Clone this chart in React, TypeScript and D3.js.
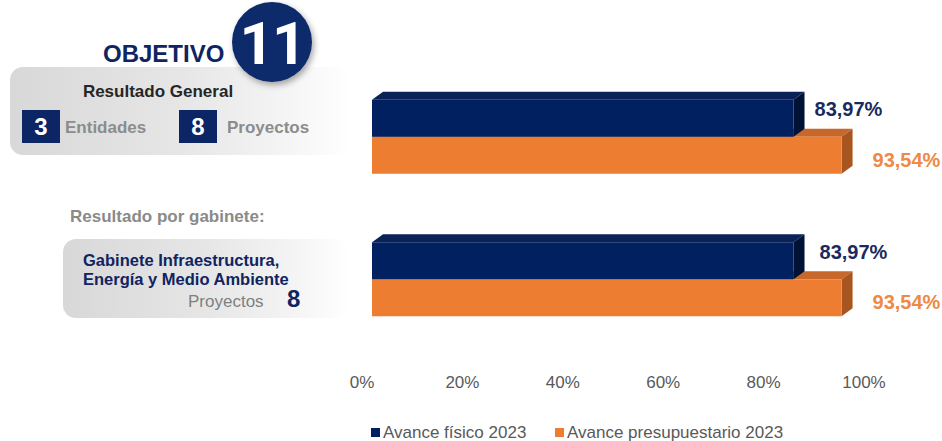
import React from "react";
import * as d3 from "d3";

const categories = ["Resultado General", "Gabinete Infraestructura, Energía y Medio Ambiente"];
const seriesKeys = ["fisico", "presupuestario"];
const seriesNames = ["Avance físico 2023", "Avance presupuestario 2023"];
const fisico = [83.97, 83.97];
const presupuestario = [93.54, 93.54];
const valueLabels = [["83,97%", "83,97%"], ["93,54%", "93,54%"]];
const tickValues = [0, 20, 40, 60, 80, 100];
const tickLabels = ["0%", "20%", "40%", "60%", "80%", "100%"];

const W = 942;
const H = 441;
const FONT = "'Liberation Sans', Arial, sans-serif";
const NAVY = "#0f2461";
const BAR = [
  { front: "#002060", top: "#0a2258", side: "#001236", label: "#1b2a5e" },
  { front: "#ED7D31", top: "#c8672a", side: "#a9551f", label: "#ED8A45" },
];
const DX = 11;
const DY = 8;

export default function App() {
  const x = d3.scaleLinear().domain([0, 100]).range([372, 874]);
  const y = d3.scaleBand<string>().domain(categories).range([57, 359]).paddingInner(0.48).paddingOuter(0.3);
  const sub = d3.scaleBand<string>().domain(seriesKeys).range([0, y.bandwidth()]).padding(0);
  const values = [fisico, presupuestario];

  const barShapes = (ci: number, si: number) => {
    const v = values[si][ci];
    const c = BAR[si];
    const x0 = x(0);
    const x1 = x(v);
    const y0 = (y(categories[ci]) as number) + (sub(seriesKeys[si]) as number);
    const y1 = y0 + sub.bandwidth();
    const line = d3.line();
    const front = line([[x0, y0], [x1, y0], [x1, y1], [x0, y1]]) + "Z";
    const top = line([[x0, y0], [x0 + DX, y0 - DY], [x1 + DX, y0 - DY], [x1, y0]]) + "Z";
    const side = line([[x1, y0], [x1 + DX, y0 - DY], [x1 + DX, y1 - DY], [x1, y1]]) + "Z";
    return { front, top, side, c, x1, y0, y1 };
  };

  const legendX = [371, 555];

  return (
    <div style={{ position: "absolute", left: 0, top: 0 }}>
      <svg width={W} height={H} style={{ display: "block", fontFamily: FONT }}>
        <defs>
          <linearGradient id="panelGrad" x1="0" x2="1" y1="0" y2="0">
            <stop offset="0" stopColor="#d8d8d8" />
            <stop offset="0.5" stopColor="#e6e6e6" />
            <stop offset="0.8" stopColor="#f4f4f4" />
            <stop offset="1" stopColor="#ffffff" />
          </linearGradient>
          <filter id="shadow" x="-30%" y="-30%" width="160%" height="160%">
            <feDropShadow dx="2" dy="3" stdDeviation="3" floodColor="#000" floodOpacity="0.35" />
          </filter>
        </defs>
        <rect width={W} height={H} fill="#ffffff" />

        {/* Panels */}
        <rect x={10} y={67} width={340} height={88} rx={13} fill="url(#panelGrad)" />
        <rect x={63} y={239} width={287} height={79} rx={13} fill="url(#panelGrad)" />

        {/* Header */}
        <text x={103} y={62} fontSize={24} fontWeight="bold" fill={NAVY}>OBJETIVO</text>
        <circle cx={272} cy={42} r={40} fill="#10296b" filter="url(#shadow)" />
        <text x={272} y={64} fontSize={60} fontWeight="bold" fill="#ffffff" textAnchor="middle" style={{ fontFamily: "Roboto, 'Liberation Sans', sans-serif", letterSpacing: "-2px" }}>11</text>

        <text x={158} y={97} fontSize={17} fontWeight="bold" fill="#262626" textAnchor="middle">Resultado General</text>
        <rect x={22} y={110} width={38} height={33} fill="#0b2565" />
        <text x={41} y={135} fontSize={24} fontWeight="bold" fill="#ffffff" textAnchor="middle">3</text>
        <text x={65} y={133} fontSize={17} fontWeight="bold" fill="#8c8c8c">Entidades</text>
        <rect x={179} y={110} width={38} height={33} fill="#0b2565" />
        <text x={198} y={135} fontSize={24} fontWeight="bold" fill="#ffffff" textAnchor="middle">8</text>
        <text x={227} y={133} fontSize={17} fontWeight="bold" fill="#8c8c8c">Proyectos</text>

        <text x={70} y={222} fontSize={17} fontWeight="bold" fill="#8a8a8a">Resultado por gabinete:</text>
        <text x={83} y={266} fontSize={16.5} fontWeight="bold" fill={NAVY}>Gabinete Infraestructura,</text>
        <text x={83} y={285} fontSize={16.5} fontWeight="bold" fill={NAVY}>Energía y Medio Ambiente</text>
        <text x={188} y={307} fontSize={17} fill="#7f7f7f">Proyectos</text>
        <text x={287} y={307} fontSize={24} fontWeight="bold" fill={NAVY}>8</text>

        {/* Bars */}
        {categories.map((cat, ci) => {
          const b0 = barShapes(ci, 0);
          const b1 = barShapes(ci, 1);
          return (
            <g key={cat}>
              <path d={b1.top} fill={b1.c.top} />
              <path d={b1.side} fill={b1.c.side} />
              <path d={b1.front} fill={b1.c.front} />
              <path d={b0.top} fill={b0.c.top} />
              <path d={b0.side} fill={b0.c.side} />
              <path d={b0.front} fill={b0.c.front} />
              <text x={b0.x1 + DX + 10 + ci * 5} y={b0.y0 + 16.5} fontSize={20} fontWeight="bold" fill={b0.c.label}>{valueLabels[0][ci]}</text>
              <text x={b1.x1 + DX + 20} y={b1.y1 - 7} fontSize={20} fontWeight="bold" fill={b1.c.label}>{valueLabels[1][ci]}</text>
            </g>
          );
        })}

        {/* Axis tick labels */}
        {tickValues.map((t, i) => (
          <text key={t} x={x(t) - 10} y={388} fontSize={17} fill="#595959" textAnchor="middle">{tickLabels[i]}</text>
        ))}

        {/* Legend */}
        {seriesNames.map((name, i) => (
          <g key={name}>
            <rect x={legendX[i]} y={428} width={9} height={9} fill={BAR[i].front} />
            <text x={legendX[i] + 12} y={438} fontSize={17} fill="#595959">{name}</text>
          </g>
        ))}
      </svg>
    </div>
  );
}
